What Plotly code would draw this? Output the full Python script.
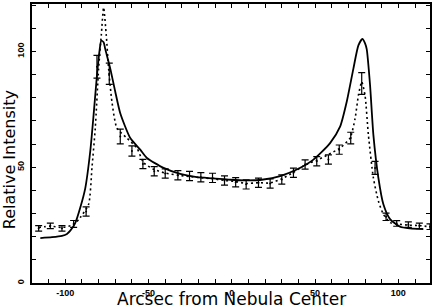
import plotly.graph_objects as go

# Observed data with error bars
obs_x = [-116, -109, -102, -95, -87.5, -81, -73.6, -67, -60, -53.4, -46.6, -40, -32.4,
         -25.4, -18.6, -11.6, -4.4, 2.3, 8.6, 16, 23, 30, 37, 44, 51, 58, 64.5, 71.4,
         78, 86, 92.6, 99, 106, 112.6, 119]
obs_y = [23.6, 24.7, 23.6, 25.5, 30.9, 93.4, 90.4, 63.3, 57.0, 51.4, 48.3, 47.3, 46.5,
         46.2, 45.7, 45.4, 44.3, 43.5, 42.6, 43.3, 43.0, 44.7, 47.6, 51.2, 52.6, 53.3, 57.6, 62.6,
         86.2, 49.7, 28.6, 25.7, 25.2, 24.7, 24.3]
obs_err = [1.2, 1.2, 1.2, 1.5, 2.0, 4.9, 4.6, 3.2, 2.2, 2.0, 2.0, 2.0, 2.0,
           2.0, 2.0, 2.0, 2.0, 2.0, 2.0, 2.0, 2.0, 2.0, 2.0, 2.0, 2.0, 2.0, 2.0, 2.5,
           4.7, 2.8, 1.6, 1.2, 1.2, 1.2, 1.2]

# Model 1 (solid)
solid_x = [-115, -108, -102, -99, -97, -94, -91, -88, -85, -83, -81, -79.5, -78.4, -77, -76,
           -73, -70, -67, -61, -55, -51, -41, -31, -21, -11, -1, 9, 19, 29, 39, 49, 59, 65,
           69, 73, 76, 78.4, 80, 81, 83, 85, 88, 91, 95, 101, 107, 115]
solid_y = [19.4, 19.8, 20.4, 21.2, 22.6, 26, 32.6, 41, 57, 72.7, 89.7, 100, 104.7, 104, 101,
           92.6, 82.6, 73.3, 62.6, 57.6, 54, 49.7, 47.1, 45.7, 45.2, 44.6, 44.3, 44.7, 46.2, 49,
           53.3, 60.4, 67.5, 78.3, 92.6, 102.6, 105.4, 103.5, 101, 85.5, 64, 45.4, 34, 27.6,
           24.3, 23.6, 23.3]

# Model 2 (dotted)
dot_x = [-116, -109, -102, -95, -91, -86, -84, -82, -80, -78.4, -77, -75.4, -74, -72, -69,
         -63, -57, -53, -46.6, -40, -32, -25, -18.6, -11.6, -4.4, 2.3, 8.6, 16, 23, 30, 37,
         44, 51, 58, 65, 71, 74, 76, 78, 80, 82, 85, 88, 91, 95, 99, 106, 112.6, 119]
dot_y = [24, 24.5, 24, 25.2, 28.3, 34, 49.7, 66.9, 92.6, 107, 119, 107, 92.6, 78.3, 66.9,
         62.6, 58.3, 52, 49, 47.5, 46.5, 46, 45.5, 45, 44.3, 43.8, 43, 43.3, 43.2, 45, 47.8,
         51, 53, 55.5, 58.3, 62.6, 71, 81, 86.9, 81, 64, 45.4, 35.4, 29.7, 26.1, 25.5, 25,
         24.8, 24.3]

x_ticks = list(range(-120, 121, 10))
x_labels = [str(v) if v % 50 == 0 and abs(v) <= 100 else "" for v in x_ticks]
y_ticks = list(range(0, 121, 10))
y_labels = [str(v) if v % 50 == 0 else "" for v in y_ticks]

fig = go.Figure()
fig.add_trace(go.Scatter(x=solid_x, y=solid_y, mode="lines",
                         line=dict(color="black", width=1.8, shape="spline", smoothing=0.6)))
fig.add_trace(go.Scatter(x=dot_x, y=dot_y, mode="lines",
                         line=dict(color="black", width=1.6, dash="2px,3px",
                                   shape="spline", smoothing=0.6)))
fig.add_trace(go.Scatter(x=obs_x, y=obs_y, mode="markers",
                         marker=dict(color="black", size=2),
                         error_y=dict(type="data", array=obs_err, color="black",
                                      thickness=1.2, width=3.5)))

axis_common = dict(showline=True, linecolor="black", linewidth=1.8, mirror="ticks",
                   ticks="inside", ticklen=4, tickcolor="black", tickwidth=1,
                   showgrid=False, zeroline=False,
                   tickfont=dict(family="Liberation Sans", size=9, color="black",
                                 weight="bold"))

fig.update_layout(
    width=436, height=308,
    margin=dict(l=32, r=6, t=2, b=25),
    paper_bgcolor="white", plot_bgcolor="white",
    showlegend=False,
    xaxis=dict(range=[-120, 119], tickmode="array", tickvals=x_ticks, ticktext=x_labels,
               ticklabelstandoff=0, **axis_common),
    yaxis=dict(range=[0, 120.5], tickmode="array", tickvals=y_ticks, ticktext=y_labels,
               tickangle=-90, ticklabelstandoff=3, **axis_common),
    annotations=[
        dict(text="Arcsec from Nebula Center", xref="paper", yref="paper", x=0.5, y=0,
             yshift=-16, xanchor="center", yanchor="middle", showarrow=False,
             font=dict(family="DejaVu Sans", size=17, color="black")),
        dict(text="Relative Intensity", xref="paper", yref="paper", x=0, y=0.44,
             xshift=-23, xanchor="center", yanchor="middle", textangle=-90, showarrow=False,
             font=dict(family="DejaVu Sans", size=16, color="black")),
    ],
)

fig.write_html("out.html", post_script="document.body.style.margin='0';",
               config={"displayModeBar": False})
